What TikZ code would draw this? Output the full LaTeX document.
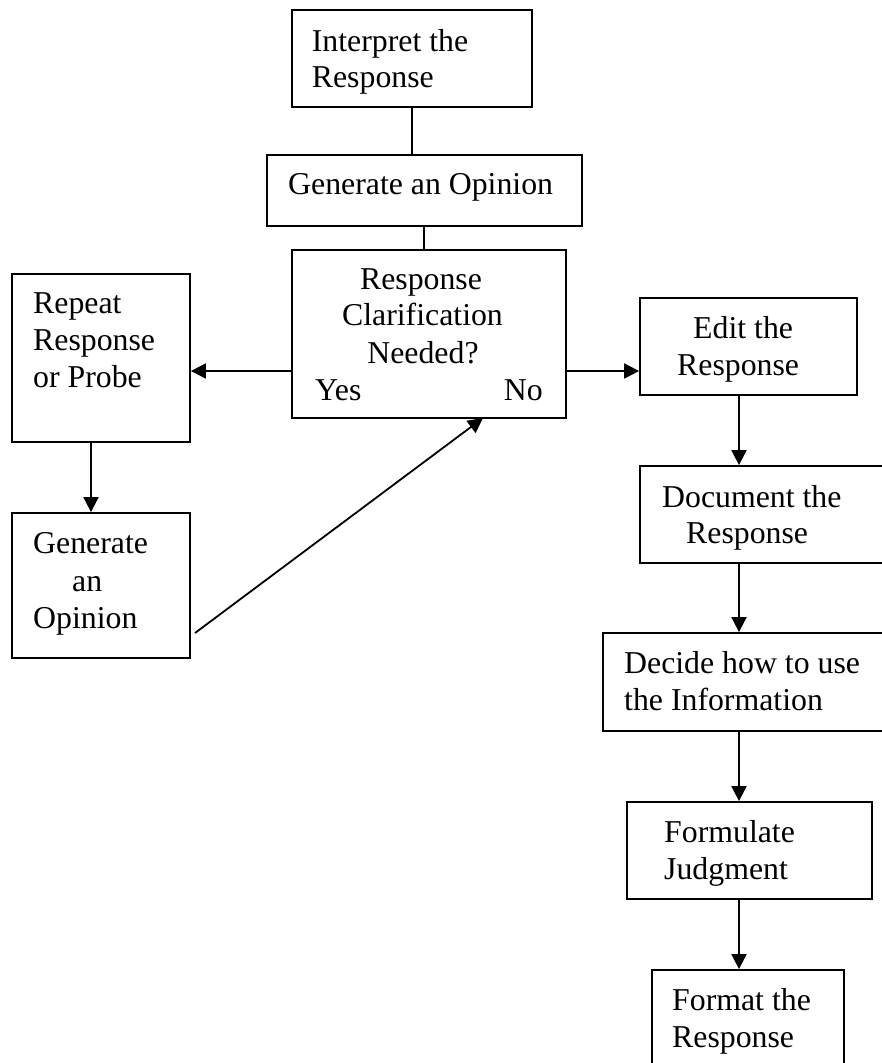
\documentclass[tikz,border=0pt]{standalone}
\usepackage{fontspec}
\setmainfont{Liberation Serif}
\usetikzlibrary{arrows.meta}
\begin{document}
\begin{tikzpicture}[x=1pt,y=-1pt,
  box/.style={draw,line width=1.8pt,rectangle,inner sep=0pt,fill=none},
  txt/.style={anchor=base west,inner sep=0pt,font=\fontsize{31.8}{36}\selectfont},
  ctxt/.style={anchor=base,inner sep=0pt,font=\fontsize{31.8}{36}\selectfont},
  line/.style={line width=1.8pt},
  arr/.style={line width=1.8pt,-{Triangle[length=15pt,width=15pt]}}]
\useasboundingbox (0,0) rectangle (882,1063);
\clip (0,0) rectangle (882,1063);
% boxes
\node[box,minimum width=240pt,minimum height=97pt] (b1) at (412,58.5) {};
\node[box,minimum width=315pt,minimum height=71pt] (b2) at (424.5,190.5) {};
\node[box,minimum width=274pt,minimum height=168pt] (b3) at (429,334) {};
\node[box,minimum width=178pt,minimum height=168pt] (rep) at (101,358) {};
\node[box,minimum width=178pt,minimum height=145pt] (gen) at (101,585.5) {};
\node[box,minimum width=217pt,minimum height=97pt] (edit) at (748.5,346.5) {};
\node[box,minimum width=260pt,minimum height=97pt] (doc) at (770,514.5) {};
\node[box,minimum width=297pt,minimum height=98pt] (dec) at (751.5,682) {};
\node[box,minimum width=245pt,minimum height=97pt] (form) at (749.5,850.5) {};
\node[box,minimum width=192pt,minimum height=110pt] (fmt) at (748,1025) {};
% texts
\node[txt] (t1a) at (311.7,51) {Interpret the};
\node[txt] (t1b) at (311.7,87) {Response};
\node[txt] (t2) at (288,194) {Generate an Opinion};
\node[ctxt] (t3a) at (421,289) {Response};
\node[ctxt] (t3b) at (422.5,325.5) {Clarification};
\node[ctxt] (t3c) at (423,363) {Needed?};
\node[txt] (t3y) at (315,400) {Yes};
\node[anchor=base east,inner sep=0pt,font=\fontsize{31.8}{36}\selectfont] (t3n) at (543,400) {No};
\node[txt] (r1) at (33,313) {Repeat};
\node[txt] (r2) at (33,350) {Response};
\node[txt] (r3) at (33,387) {or Probe};
\node[txt] (g1) at (33,553) {Generate};
\node[txt] (g2) at (72,591) {an};
\node[txt] (g3) at (33,628) {Opinion};
\node[txt] (e1) at (693,338) {Edit the};
\node[txt] (e2) at (677,375) {Response};
\node[txt] (d1) at (662,507) {Document the};
\node[txt] (d2) at (686,543) {Response};
\node[txt] (c1) at (624,673) {Decide how to use};
\node[txt] (c2) at (624,710) {the Information};
\node[txt] (f1) at (664,842) {Formulate};
\node[txt] (f2) at (664,879) {Judgment};
\node[txt] (m1) at (672,1010) {Format the};
\node[txt] (m2) at (672,1047) {Response};
% helper coordinates
\coordinate (row) at (0,371);
\coordinate (tcol) at (412,0);
\coordinate (mcol) at (424,0);
\coordinate (lcol) at (91,0);
\coordinate (rcol) at (739,0);
\coordinate (diag) at (195,633);
\coordinate (diagend) at (483,418);
% connectors
\draw[line] (b1.south -| tcol) -- (b2.north -| tcol);
\draw[line] (b2.south -| mcol) -- (b3.north -| mcol);
\draw[arr] (b3.west |- row) -- (rep.east |- row);
\draw[arr] (b3.east |- row) -- (edit.west |- row);
\draw[arr] (rep.south -| lcol) -- (gen.north -| lcol);
\draw[arr] (diag) -- (diagend);
\draw[arr] (edit.south -| rcol) -- (doc.north -| rcol);
\draw[arr] (doc.south -| rcol) -- (dec.north -| rcol);
\draw[arr] (dec.south -| rcol) -- (form.north -| rcol);
\draw[arr] (form.south -| rcol) -- (fmt.north -| rcol);
\end{tikzpicture}
\end{document}
